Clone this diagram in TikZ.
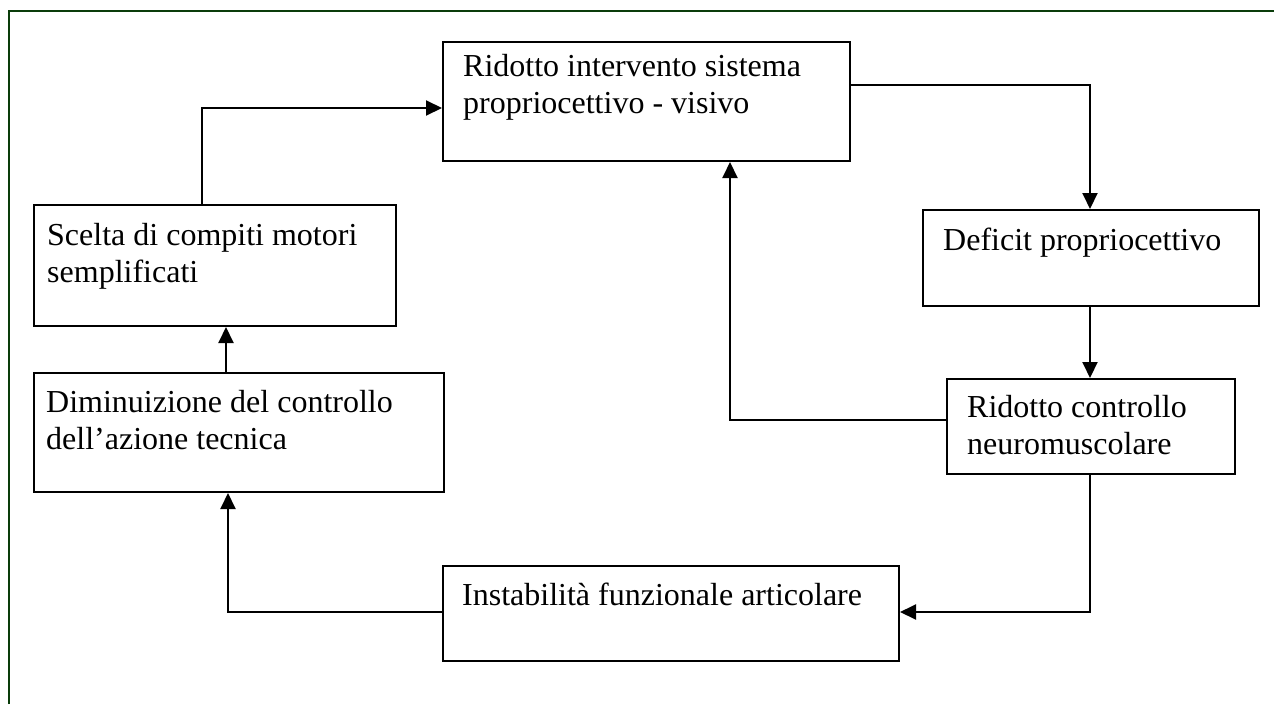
\documentclass[tikz,border=0pt]{standalone}
\usepackage{fontspec}
\setmainfont{Liberation Serif}
\usetikzlibrary{arrows.meta}
\definecolor{framegreen}{RGB}{10,60,10}
\tikzset{
  box/.style={draw=black, line width=2pt, inner sep=0pt, anchor=north west, fill=white},
  lbl/.style={inner sep=0pt, anchor=north west, align=left, font=\fontsize{32}{37.5}\selectfont},
  arr/.style={draw=black, line width=2pt, -{Triangle[length=16pt,width=15pt]}},
  frame/.style={draw=framegreen, line width=2.5pt}
}
\newcommand{\tstrut}{\rule{0pt}{26pt}}
\begin{document}
\begin{tikzpicture}[x=1pt,y=-1pt]
\useasboundingbox (0,0) rectangle (1274,704);
\fill[white] (0,0) rectangle (1274,704);
% frame
\coordinate (fa) at (9,704);
\coordinate (fb) at (9,11);
\coordinate (fc) at (1274,11);
\draw[frame] (fa) -- (fb) -- (fc);
% boxes
\node[box, minimum width=407pt, minimum height=119pt] (A) at (442,41) {};
\node[box, minimum width=336pt, minimum height=96pt] (B) at (922,209) {};
\node[box, minimum width=288pt, minimum height=95pt] (C) at (946,378) {};
\node[box, minimum width=456pt, minimum height=95pt] (D) at (442,565) {};
\node[box, minimum width=410pt, minimum height=119pt] (E) at (33,372) {};
\node[box, minimum width=362pt, minimum height=121pt] (F) at (33,204) {};
% texts
\node[lbl] (tA) at (463,50) {\tstrut Ridotto intervento sistema\\propriocettivo - visivo};
\node[lbl] (tB) at (943,224) {\tstrut Deficit propriocettivo};
\node[lbl] (tC) at (967,391) {\tstrut Ridotto controllo\\neuromuscolare};
\node[lbl] (tD) at (462,579) {\tstrut Instabilità funzionale articolare};
\node[lbl] (tE) at (46,386) {\tstrut Diminuizione del controllo\\dell’azione tecnica};
\node[lbl] (tF) at (47,219) {\tstrut Scelta di compiti motori\\semplificati};
% turning points
\coordinate (c1) at (202,108);
\coordinate (c2) at (1090,85);
\coordinate (c3) at (730,420);
\coordinate (c4) at (1090,612);
\coordinate (c5) at (228,612);
\coordinate (c6) at (226,400);
% connectors
\draw[arr] (F.north -| c1) -- (c1) -- (A.west |- c1);
\draw[arr] (A.east |- c2) -- (c2) -- (B.north -| c2);
\draw[arr] (B.south -| c2) -- (C.north -| c2);
\draw[arr] (C.west |- c3) -- (c3) -- (A.south -| c3);
\draw[arr] (C.south -| c4) -- (c4) -- (D.east |- c4);
\draw[arr] (D.west |- c5) -- (c5) -- (E.south -| c5);
\draw[arr] (E.north -| c6) -- (F.south -| c6);
\end{tikzpicture}
\end{document}
